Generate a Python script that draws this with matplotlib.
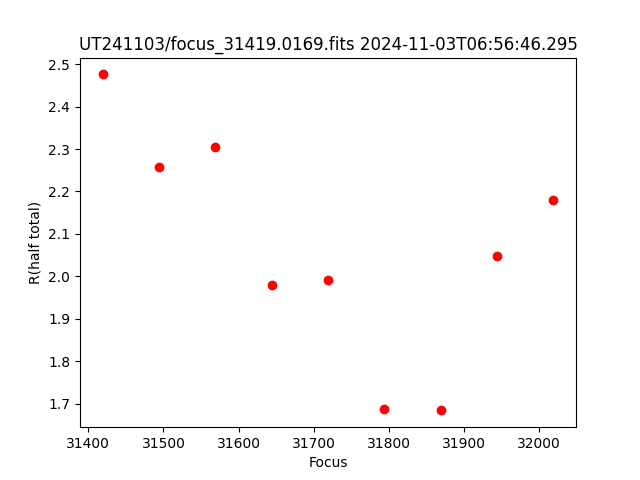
import matplotlib
matplotlib.use("Agg")
import matplotlib.pyplot as plt

focus = [31419, 31494, 31569, 31644, 31719, 31794, 31869, 31944, 32019]
r_half = [2.476, 2.257, 2.304, 1.979, 1.991, 1.688, 1.684, 2.047, 2.179]

fig, ax = plt.subplots(figsize=(6.4, 4.8), dpi=100)
ax.plot(focus, r_half, 'o', color='red')
ax.set_xlabel('Focus')
ax.set_ylabel('R(half total)')
ax.set_title('UT241103/focus_31419.0169.fits 2024-11-03T06:56:46.295')
fig.savefig('out.png')
